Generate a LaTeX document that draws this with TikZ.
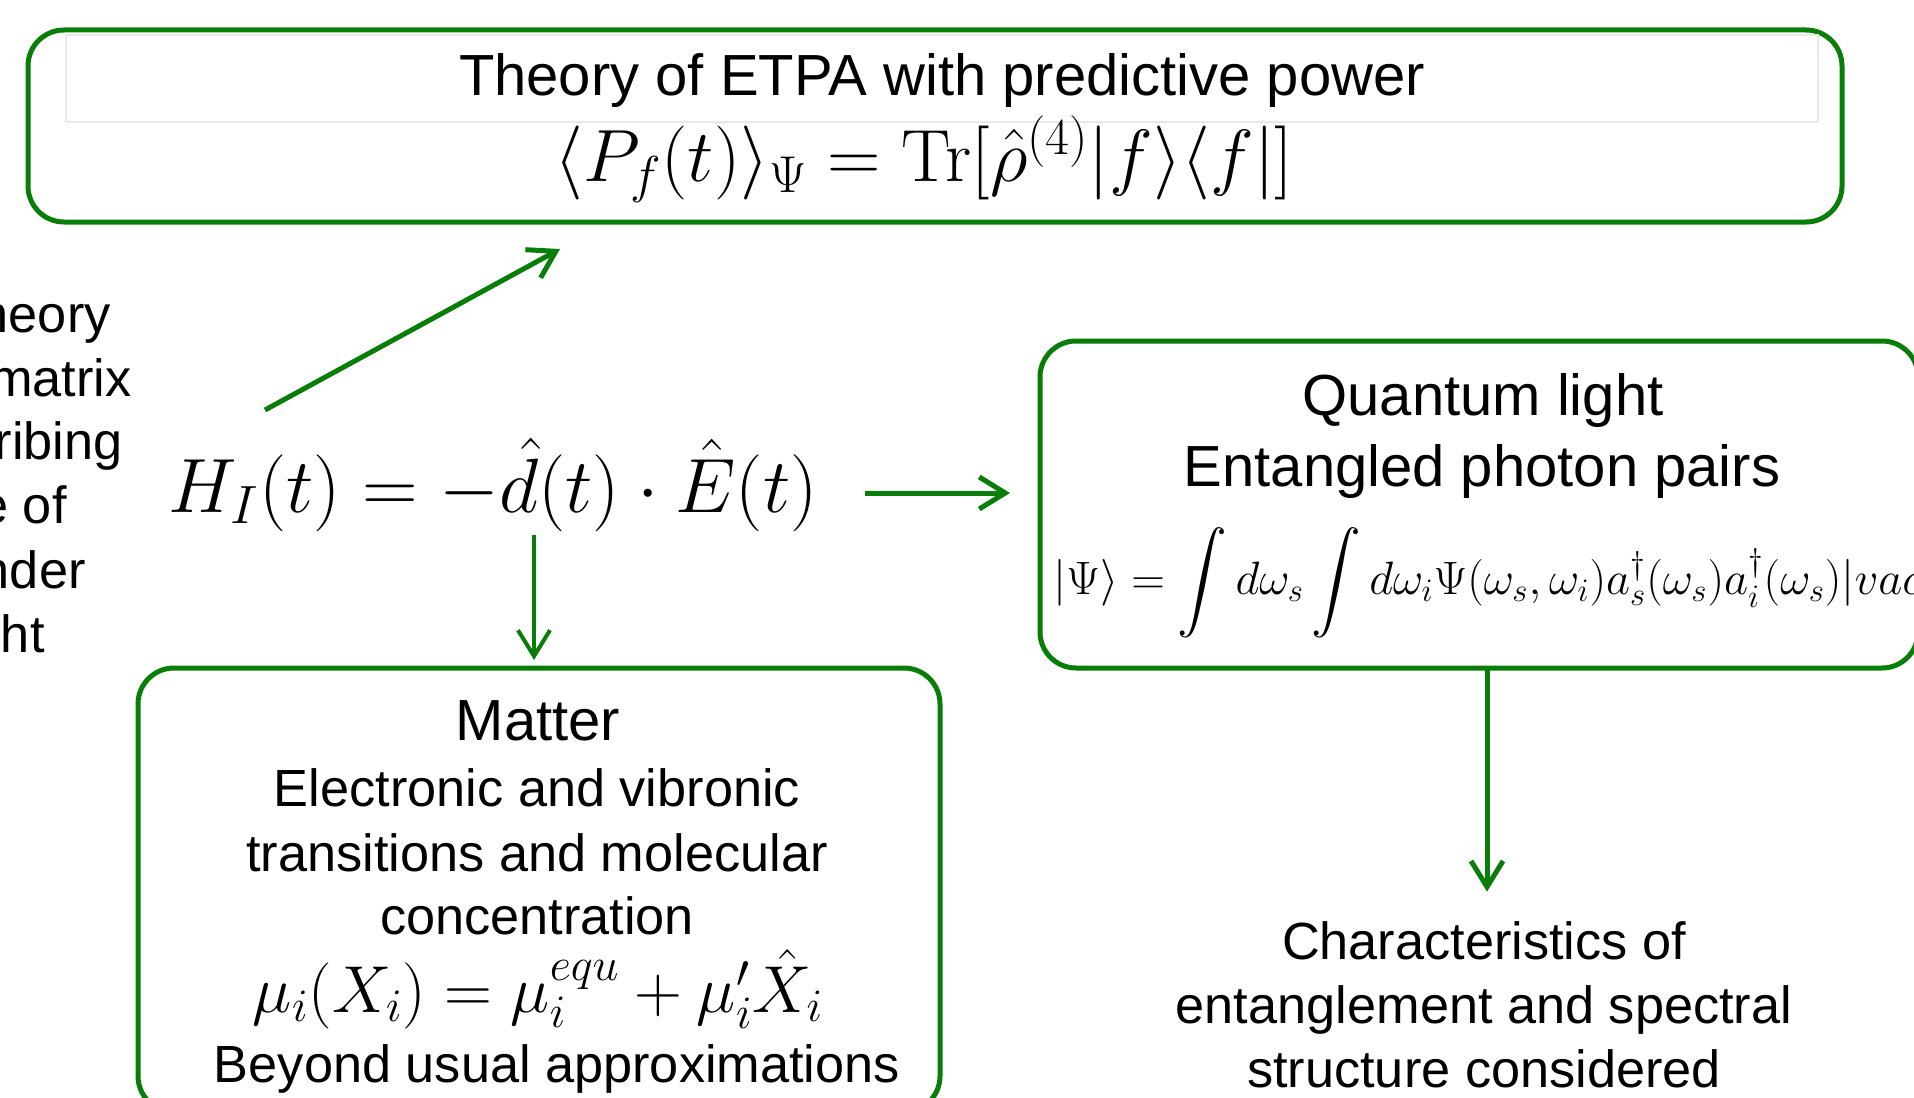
\RequirePackage{fix-cm}
\documentclass[tikz,border=0pt]{standalone}
\usepackage[no-math]{fontspec}
\setmainfont{Liberation Sans}
\usepackage{amsmath}
\usetikzlibrary{arrows.meta}
\definecolor{dgreen}{RGB}{8,126,8}
\tikzset{
  gbox/.style={draw=dgreen, line width=2.5pt, rounded corners=18pt, inner sep=0pt, outer sep=0pt},
  arr/.style={draw=dgreen, line width=2.5pt, -{Straight Barb[length=13pt,width=16pt]}},
  ttl/.style={font=\fontsize{29}{35}\selectfont, inner sep=0pt, anchor=base},
  body/.style={font=\fontsize{26.15}{32}\selectfont, inner sep=0pt, anchor=base},
  mth/.style={inner sep=0pt, anchor=base},
}
\begin{document}
\begin{tikzpicture}[x=0.5pt,y=-0.5pt]
\useasboundingbox (0,0) rectangle (1914,1097);

% top box
\node[gbox, minimum width=907pt, minimum height=96pt] (topbox) at (935,126) {};
\draw[gray!18, line width=0.8pt] (66,35) rectangle (1818,122);
\node[ttl] (title) at (942,96) {Theory of ETPA with predictive power};
\node[mth, font=\fontsize{37}{44}\selectfont] (pform) at (924,181)
  {$\langle P_f(t)\rangle_\Psi = \mathrm{Tr}[\hat\rho^{(4)}\lvert f\rangle\langle f\rvert]$};

% clipped left text
\node[body, anchor=base east] (l1) at (111,332) {Theory};
\node[body, anchor=base east] (l2) at (132,396) {matrix};
\node[body, anchor=base east] (l3) at (123,459) {describing};
\node[body, anchor=base east] (l4) at (67,523) {the state of};
\node[body, anchor=base east] (l5) at (86,588) {under};
\node[body, anchor=base east] (l6) at (45,652) {light};

% interaction Hamiltonian
\node[mth, font=\fontsize{38.5}{46}\selectfont] (hform) at (493,512)
  {$H_I(t) = -\hat d(t)\cdot\hat E(t)$};

% quantum light box
\node[gbox, minimum width=439pt, minimum height=163.5pt] (quantum) at (1479,504.5) {};
\node[ttl] (qt1) at (1483,415) {Quantum light};
\node[ttl] (qt2) at (1482,486) {Entangled photon pairs};
\node[mth, anchor=base west, font=\fontsize{23.4}{29}\selectfont] (qform) at (1053,594)
  {$\displaystyle \lvert\Psi\rangle = \int d\omega_s \int d\omega_i \Psi(\omega_s,\omega_i) a_s^\dagger(\omega_s) a_i^\dagger(\omega_s)\lvert vac\rangle$};

% matter box
\node[gbox, minimum width=401pt, minimum height=222pt] (matter) at (539,890) {};
\node[ttl] (mt) at (538,740) {Matter};
\node[body] (m1) at (537,806) {Electronic and vibronic};
\node[body] (m2) at (537,871) {transitions and molecular};
\node[body] (m3) at (537,934) {concentration};
\node[mth, font=\fontsize{33.2}{40}\selectfont] (mform) at (538,1012)
  {$\mu_i(X_i) = \mu_i^{equ} + \mu'_i\hat X_i$};
\node[body] (m4) at (557,1082) {Beyond usual approximations};

% characteristics
\node[body] (c1) at (1484,959) {Characteristics of};
\node[body] (c2) at (1484,1023) {entanglement and spectral};
\node[body] (c3) at (1484,1087) {structure considered};

% connectors
\coordinate (dstart) at (265,410);
\coordinate (dend) at (560,249);
\draw[arr] (dstart) -- (dend);
\coordinate (hr) at (865,493);
\draw[arr, shorten >=15pt] (hr) -- (hr -| quantum.west);
\coordinate (hd) at (534,535);
\draw[arr, line width=2pt, shorten >=4pt] (hd) -- (hd |- matter.north);
\draw[arr, shorten >=14.5pt] ([xshift=4pt]quantum.south) -- ([xshift=4pt]quantum.south |- c1.north);
\end{tikzpicture}
\end{document}
